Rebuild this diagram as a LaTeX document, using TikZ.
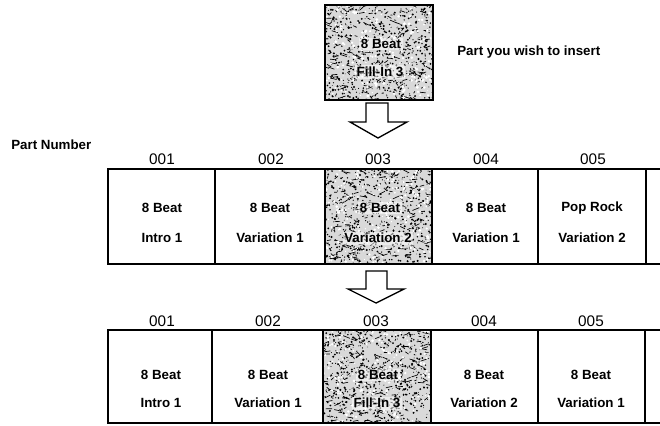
\documentclass[tikz,border=0pt]{standalone}
\usepackage{fontspec}
\setmainfont{Liberation Sans}
\newcommand\speckbox[4]{%
  \begin{scope}
    \clip (#1,#2) rectangle (#3,#4);
    \fill[gray!30] (#1,#2) rectangle (#3,#4);
    \foreach \k in {1,...,620}{%
      \pgfmathsetmacro\sx{#1+rnd*(#3-#1)}%
      \pgfmathsetmacro\sy{#2+rnd*(#4-#2)}%
      \pgfmathsetmacro\sr{0.35+0.8*rnd}%
      \fill[black] (\sx,\sy) circle[radius=\sr];
    }
    \foreach \k in {1,...,180}{%
      \pgfmathsetmacro\sx{#1+rnd*(#3-#1)}%
      \pgfmathsetmacro\sy{#2+rnd*(#4-#2)}%
      \pgfmathsetmacro\dx{7*rand}%
      \pgfmathsetmacro\dy{3*rand}%
      \draw[black,line width=0.5pt] (\sx,\sy) -- ++(\dx,\dy);
    }
    \foreach \k in {1,...,200}{%
      \pgfmathsetmacro\sx{#1+rnd*(#3-#1)}%
      \pgfmathsetmacro\sy{#2+rnd*(#4-#2)}%
      \pgfmathsetmacro\sr{0.5+1.1*rnd}%
      \fill[white] (\sx,\sy) circle[radius=\sr];
    }
  \end{scope}}
\begin{document}
\begin{tikzpicture}[x=0.75pt,y=-0.75pt,
  celltext/.style={font=\bfseries\fontsize{10}{12}\selectfont, inner sep=0pt},
  shadetext/.style={celltext, inner sep=1.2pt, fill=white, fill opacity=0.5, text opacity=1},
  numtext/.style={font=\fontsize{11.5}{13}\selectfont, inner sep=0pt},
  gridline/.style={line width=1.1pt, line cap=rect},
  blockarrow/.style={draw, line width=1pt, fill=white, line join=miter}]
\useasboundingbox (0,0) rectangle (660,425);
\pgfmathsetseed{4711}

% ---- part to insert
\speckbox{325}{5}{433}{100}
\draw[gridline] (325,5) rectangle (433,100);
\node[shadetext] (insA) at (381,44) {8 Beat};
\node[shadetext] (insB) at (380,72) {Fill-In 3};
\node[celltext, anchor=west] (note) at (457,52) {Part you wish to insert};

% arrow 1
\draw[blockarrow] (366,103) -- (388,103) -- (388,122) -- (407,122) -- (378,138)
  -- (350,122) -- (366,122) -- cycle;

\node[celltext, anchor=west] (pn) at (11,145) {Part Number};

% ---- row 1
\speckbox{325}{169}{432}{264}
\draw[gridline] (108,169) -- (660,169);
\draw[gridline] (108,264) -- (660,264);
\foreach \xx in {108,215,325,432,538,646}{\draw[gridline] (\xx,169) -- (\xx,264);}

\node[numtext] (n11) at (162,159) {001};
\node[numtext] (n12) at (271,159) {002};
\node[numtext] (n13) at (378,159) {003};
\node[numtext] (n14) at (486,159) {004};
\node[numtext] (n15) at (593,159) {005};

\node[celltext] (a11) at (162,208) {8 Beat};
\node[celltext] (b11) at (162,238) {Intro 1};
\node[celltext] (a12) at (270,208) {8 Beat};
\node[celltext] (b12) at (270,238) {Variation 1};
\node[shadetext] (a13) at (380,208) {8 Beat};
\node[shadetext] (b13) at (378,238) {Variation 2};
\node[celltext] (a14) at (486,208) {8 Beat};
\node[celltext] (b14) at (486,238) {Variation 1};
\node[celltext] (a15) at (592,208) {Pop Rock};
\node[celltext] (b15) at (592,238) {Variation 2};

% arrow 2
\draw[blockarrow] (366,271) -- (387,271) -- (387,289) -- (404,289) -- (376,303)
  -- (348,289) -- (366,289) -- cycle;

% ---- row 2
\speckbox{323}{330}{431}{423}
\draw[gridline] (108,330) -- (660,330);
\draw[gridline] (108,423) -- (660,423);
\foreach \xx in {108,212,323,431,538,645}{\draw[gridline] (\xx,330) -- (\xx,423);}

\node[numtext] (n21) at (162,321) {001};
\node[numtext] (n22) at (268,321) {002};
\node[numtext] (n23) at (376,321) {003};
\node[numtext] (n24) at (484,321) {004};
\node[numtext] (n25) at (591,321) {005};

\node[celltext] (a21) at (161,375) {8 Beat};
\node[celltext] (b21) at (161,403) {Intro 1};
\node[celltext] (a22) at (268,375) {8 Beat};
\node[celltext] (b22) at (268,403) {Variation 1};
\node[shadetext] (a23) at (378,375) {8 Beat};
\node[shadetext] (b23) at (377,403) {Fill-In 3};
\node[celltext] (a24) at (484,375) {8 Beat};
\node[celltext] (b24) at (484,403) {Variation 2};
\node[celltext] (a25) at (591,375) {8 Beat};
\node[celltext] (b25) at (591,403) {Variation 1};
\end{tikzpicture}
\end{document}
